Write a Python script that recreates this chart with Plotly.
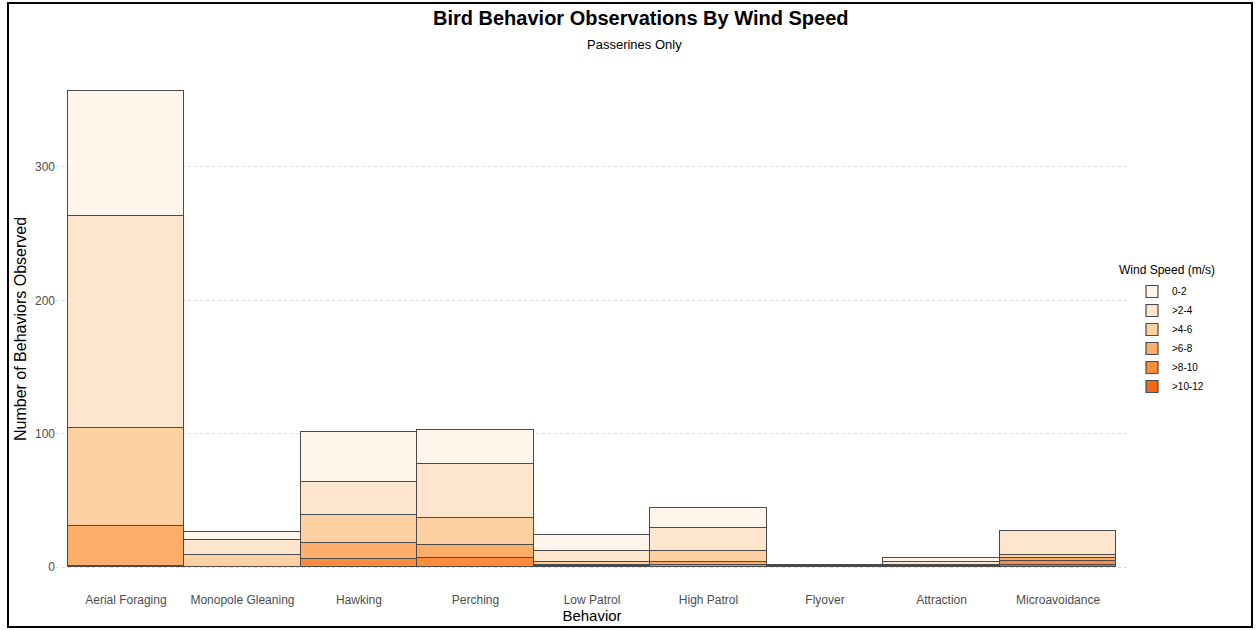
import plotly.graph_objects as go

behaviors = ["Aerial Foraging", "Monopole Gleaning", "Hawking", "Perching", "Low Patrol",
             "High Patrol", "Flyover", "Attraction", "Microavoidance"]

wind_levels = ["0-2", ">2-4", ">4-6", ">6-8", ">8-10", ">10-12"]
wind_colors = ["#FFF5EB", "#FEE6CE", "#FDD0A2", "#FDAE6B", "#FD8D3C", "#F16913"]

# counts per behavior for each wind speed class
w_0_2 = [94, 6, 37, 26, 12, 15, 1, 3, 0]
w_2_4 = [159, 11, 25, 40, 8, 17, 1, 2, 18]
w_4_6 = [73, 9, 21, 20, 2, 8, 0, 1, 2]
w_6_8 = [30, 0, 12, 10, 1, 2, 0, 1, 2]
w_8_10 = [1, 0, 6, 7, 1, 2, 0, 0, 3]
w_10_12 = [0, 0, 0, 0, 0, 0, 0, 0, 2]

series = [w_0_2, w_2_4, w_4_6, w_6_8, w_8_10, w_10_12]

W, H = 1259, 630
L, R, T, B = 56, 131, 67, 39
pw, ph = W - L - R, H - T - B

def px_x(p):
    return (p - L) / pw

def px_y(p):
    return (H - B - p) / ph

fig = go.Figure()
# bottom of stack first (highest wind speed)
for name, col, vals in reversed(list(zip(wind_levels, wind_colors, series))):
    fig.add_trace(go.Bar(
        x=behaviors, y=vals, name=name,
        marker=dict(color=col, line=dict(color="#4A4A4A", width=1.2)),
    ))

fig.update_layout(
    width=W, height=H, autosize=False,
    barmode="stack", bargap=0,
    plot_bgcolor="white", paper_bgcolor="white",
    margin=dict(l=L, r=R, t=T, b=B, autoexpand=False),
    font=dict(family="Liberation Sans, Arial, sans-serif", color="#000000"),
    showlegend=True,
    legend=dict(
        traceorder="reversed",
        x=px_x(1132), y=px_y(277), xanchor="left", yanchor="top",
        font=dict(size=10, color="#000000"),
        bgcolor="rgba(0,0,0,0)",
        tracegroupgap=0,
    ),
    xaxis=dict(
        range=[-0.6, 8.6], showgrid=False, zeroline=False, showline=False, automargin=False,
        ticks="", tickfont=dict(size=12, color="#4D4D4D"),
        title=dict(text="Behavior", font=dict(size=15, color="#000000"), standoff=4),
    ),
    yaxis=dict(
        range=[-17.85, 374.85], tickvals=[0, 100, 200, 300], automargin=False,
        showgrid=True, gridcolor="#DCDCDC", griddash="dot", gridwidth=1,
        zeroline=False, showline=False, ticks="",
        tickfont=dict(size=12, color="#4D4D4D"),
        title=dict(text="Number of Behaviors Observed", font=dict(size=16, color="#000000"), standoff=4),
    ),
    annotations=[
        dict(text="<b>Bird Behavior Observations By Wind Speed</b>", xref="paper", yref="paper",
             x=px_x(640), y=px_y(18), xanchor="center", yanchor="middle", showarrow=False,
             font=dict(size=20, color="#000000")),
        dict(text="Passerines Only", xref="paper", yref="paper",
             x=px_x(634), y=px_y(44), xanchor="center", yanchor="middle", showarrow=False,
             font=dict(size=13, color="#000000")),
        dict(text="Wind Speed (m/s)", xref="paper", yref="paper",
             x=px_x(1117), y=px_y(270), xanchor="left", yanchor="middle", showarrow=False,
             font=dict(size=12, color="#000000")),
    ],
    shapes=[
        dict(type="rect", xref="paper", yref="paper",
             x0=px_x(8), x1=px_x(1252), y0=px_y(627), y1=px_y(3),
             line=dict(color="#000000", width=2), fillcolor="rgba(0,0,0,0)", layer="above"),
    ],
)

fig.write_html("out.html", config={"displayModeBar": False},
               post_script="document.body.style.margin='0';document.body.style.overflow='hidden';")
